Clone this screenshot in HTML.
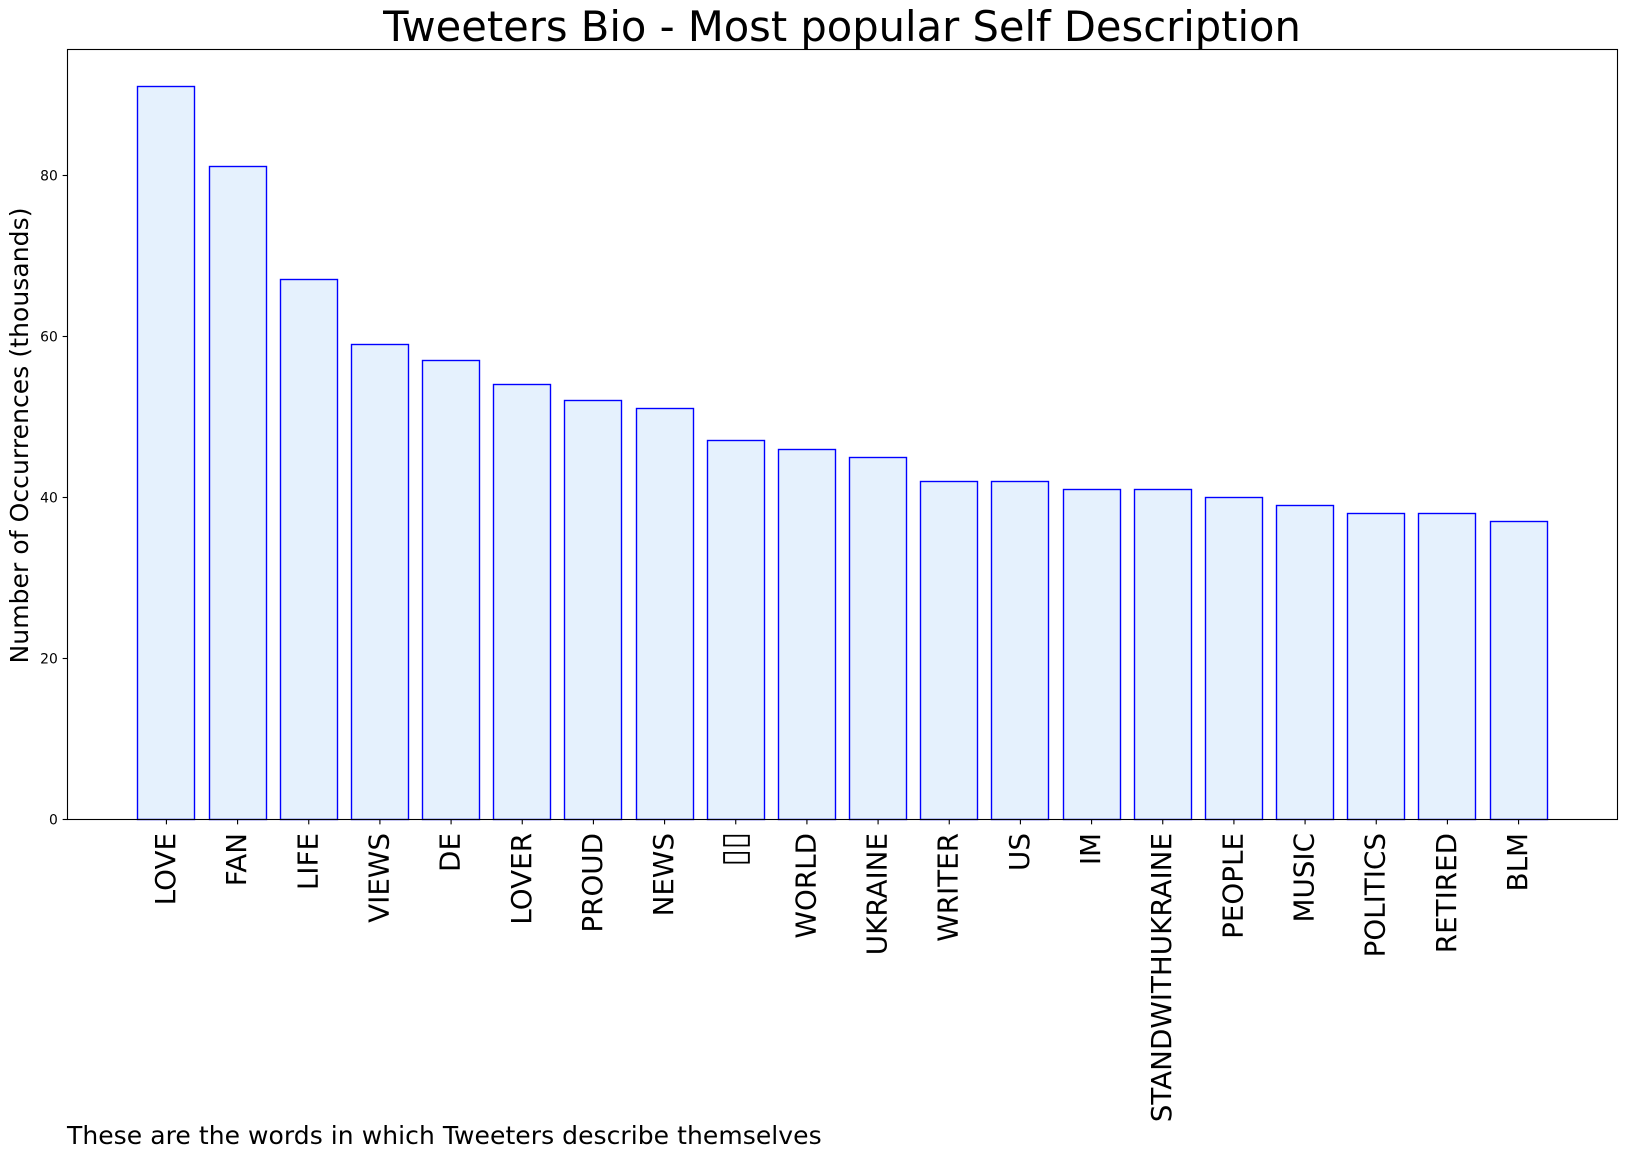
<!DOCTYPE html>
<html lang="en">
<head>
<meta charset="utf-8">
<title>Tweeters Bio - Most popular Self Description</title>
<style>
html,body{margin:0;padding:0;background:#fff;width:1627px;height:1158px;overflow:hidden}
svg{display:block}
text{font-family:"DejaVu Sans","Liberation Sans",sans-serif;fill:#000}
</style>
</head>
<body>
<svg id="chart" xmlns="http://www.w3.org/2000/svg" width="1627" height="1158" viewBox="0 0 1627 1158">
  <rect x="0" y="0" width="1627" height="1158" fill="#fff"/>
  <text x="842" y="41" text-anchor="middle" font-size="41.62">Tweeters Bio - Most popular Self Description</text>
  <text transform="translate(28,435.5) rotate(-90)" text-anchor="middle" font-size="25" textLength="456" lengthAdjust="spacing">Number of Occurrences (thousands)</text>
  <text x="67" y="1144" font-size="25" textLength="754.6" lengthAdjust="spacing">These are the words in which Tweeters describe themselves</text>
  <g id="bars"></g>
  <g id="x-axis"></g>
  <g id="y-axis"></g>
  <rect x="67.5" y="49.5" width="1550" height="770" fill="none" stroke="#000" stroke-width="1.11"/>
</svg>
<script>
const categories = ["LOVE","FAN","LIFE","VIEWS","DE","LOVER","PROUD","NEWS","\u25AF\u25AF","WORLD","UKRAINE","WRITER","US","IM","STANDWITHUKRAINE","PEOPLE","MUSIC","POLITICS","RETIRED","BLM"];
const occurrences = [91,81,67,59,57,54,52,51,47,46,45,42,42,41,41,40,39,38,38,37];
const yTicks = [0,20,40,60,80];

const NS = 'http://www.w3.org/2000/svg';
const plotLeft = 67.5, plotRight = 1617.5, plotTop = 49.5, plotBottom = 819.5;
const barWidthUnits = 0.8;
const n = categories.length;
const xMin = -barWidthUnits / 2 - 0.05 * (n - 1 + barWidthUnits);
const xMax = n - 1 + barWidthUnits / 2 + 0.05 * (n - 1 + barWidthUnits);
const yMax = Math.max.apply(null, occurrences) * 1.05;

function xScale(v) { return plotLeft + (v - xMin) / (xMax - xMin) * (plotRight - plotLeft); }
function yScale(v) { return plotBottom - v / yMax * (plotBottom - plotTop); }
function snapX(p) { return Math.round(p - 0.5) + 0.5; }
function snapY(p) { return Math.floor(p + 0.22) + 0.5; }
function make(tag, attrs) {
  const el = document.createElementNS(NS, tag);
  for (const k in attrs) el.setAttribute(k, attrs[k]);
  return el;
}

const barsGroup = document.getElementById('bars');
const xGroup = document.getElementById('x-axis');
const yGroup = document.getElementById('y-axis');

categories.forEach(function (cat, i) {
  const x0 = snapX(xScale(i - barWidthUnits / 2));
  const x1 = snapX(xScale(i + barWidthUnits / 2));
  const yT = snapY(yScale(occurrences[i]));
  const bar = make('rect', {x: x0, y: yT, width: x1 - x0, height: plotBottom - yT, fill: '#e5f1fd', stroke: '#0000ff', 'stroke-width': 1.39});
  
  
  barsGroup.appendChild(bar);

  const cx = xScale(i);
  const tick = make('line', {x1: cx, x2: cx, y1: plotBottom, y2: plotBottom + 4.86, stroke: '#000', 'stroke-width': 1.11});
  
  
  xGroup.appendChild(tick);

  const isBoxGlyph = cat.charAt(0) === '\u25AF';
  const tf = isBoxGlyph
    ? 'translate(' + (cx + 9.5) + ',832) rotate(-90) scale(1.12,1.25)'
    : 'translate(' + (cx + 8.5) + ',833) rotate(-90)';
  const label = make('text', {transform: tf, 'text-anchor': 'end', 'font-size': 27.78});
  
  
  label.textContent = cat;
  xGroup.appendChild(label);
});

yTicks.forEach(function (v) {
  const y = snapY(yScale(v));
  const tick = make('line', {x1: plotLeft - 4.86, x2: plotLeft, y1: y, y2: y, stroke: '#000', 'stroke-width': 1.11});
  
  
  yGroup.appendChild(tick);

  const label = make('text', {x: plotLeft - 9.7, y: y + 5, 'text-anchor': 'end', 'font-size': 13.89});
  
  
  label.textContent = String(v);
  yGroup.appendChild(label);
});
</script>
</body>
</html>
